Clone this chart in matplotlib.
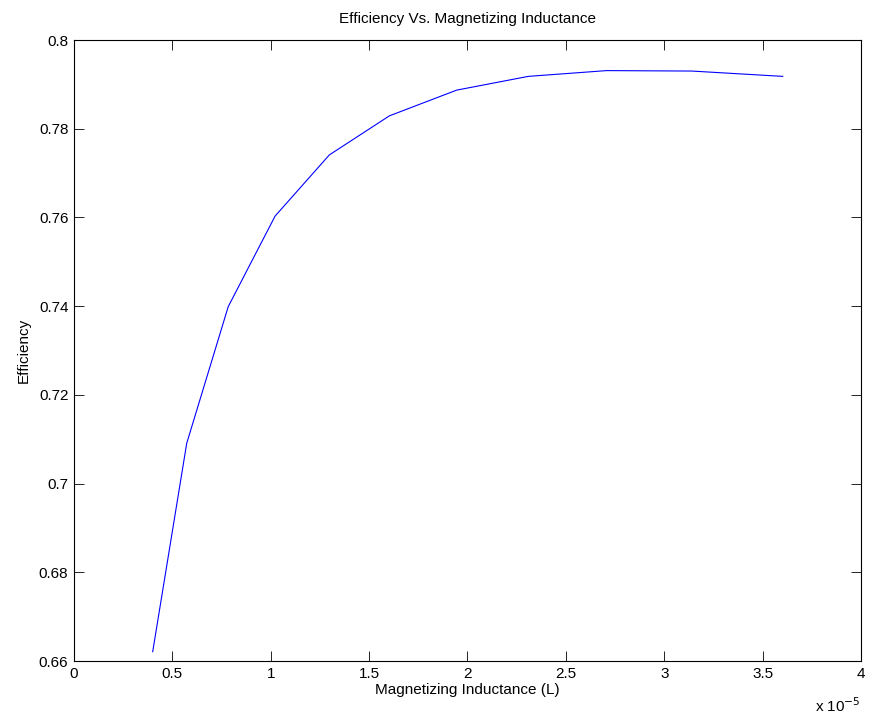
import matplotlib
matplotlib.use("Agg")
import matplotlib.pyplot as plt
from matplotlib.ticker import FuncFormatter

plt.rcParams['font.family'] = ['Liberation Sans', 'DejaVu Sans']

# Magnetizing inductance (H) and converter efficiency
inductance = [0.400e-5, 0.573e-5, 0.784e-5, 1.022e-5, 1.298e-5, 1.603e-5,
              1.945e-5, 2.309e-5, 2.707e-5, 3.140e-5, 3.602e-5]
efficiency = [0.6621, 0.7091, 0.7399, 0.7603, 0.7741, 0.7829,
              0.7887, 0.7918, 0.7931, 0.7930, 0.7918]

x_ticks = [0, 0.5e-5, 1e-5, 1.5e-5, 2e-5, 2.5e-5, 3e-5, 3.5e-5, 4e-5]
y_ticks = [0.66, 0.68, 0.70, 0.72, 0.74, 0.76, 0.78, 0.80]

fig = plt.figure(figsize=(8.69, 7.2), dpi=100)
ax = fig.add_axes([74 / 869, 59 / 720, 787 / 869, 621 / 720])

ax.plot(inductance, efficiency, color=(0, 0, 1), linewidth=0.8)

ax.set_xlim(0, 4e-5)
ax.set_ylim(0.66, 0.80)
ax.set_xticks(x_ticks)
ax.set_yticks(y_ticks)
ax.xaxis.set_major_formatter(FuncFormatter(lambda v, p: f"{v / 1e-5:g}"))
ax.yaxis.set_major_formatter(FuncFormatter(lambda v, p: f"{v:g}"))
ax.xaxis.get_offset_text().set_visible(False)

ax.tick_params(direction='in', length=7, width=0.6, labelsize=11,
               top=True, right=True, pad=4, color='black')
for s in ax.spines.values():
    s.set_linewidth(0.8)

ax.set_title("Efficiency Vs. Magnetizing Inductance", fontsize=11, pad=12)
ax.set_xlabel("Magnetizing Inductance (L)", fontsize=11, labelpad=2)
ax.set_ylabel("Efficiency", fontsize=11, labelpad=6)

fig.text(838 / 869, 1 - 706 / 720, r"x 10$^{-5}$", fontsize=11,
         ha='center', va='center')

fig.savefig("out.png", dpi=100, facecolor='white')
